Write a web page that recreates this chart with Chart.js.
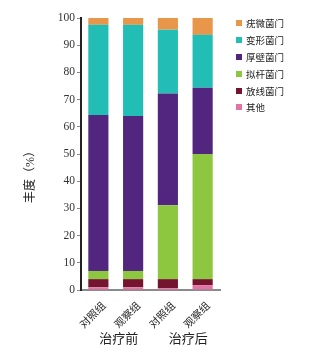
<!DOCTYPE html>
<html><head><meta charset="utf-8">
<script src="https://cdn.jsdelivr.net/npm/chart.js@4"></script>
<style>
html,body{margin:0;padding:0;background:#fff;}
#wrap{position:relative;width:327px;height:359px;}
#legend{position:absolute;left:236px;top:15px;font-family:"Liberation Serif","Noto Sans CJK SC",serif;font-size:9.5px;color:#222;}
.li{height:16.8px;display:flex;align-items:center;}
.sw{width:6px;height:6px;margin-right:4px;}
</style></head>
<body><div id="wrap"><canvas id="c" width="327" height="359"></canvas><div id="legend"></div></div>
<script>
const categories = ["对照组","观察组","对照组","观察组"];
const groups = ["治疗前","治疗后"];
const seriesNames = ["其他","放线菌门","拟杆菌门","厚壁菌门","变形菌门","疣微菌门"];
const qita   = [1.0, 1.0, 0.7, 1.8];
const fangxian = [3.0, 3.0, 3.3, 2.2];
const nigan  = [3.0, 3.0, 27.2, 46.0];
const houbi  = [57.3, 57.0, 41.0, 24.4];
const bianxing = [33.2, 33.5, 23.5, 19.4];
const youwei = [2.5, 2.5, 4.3, 6.2];
const yTicks = [0,10,20,30,40,50,60,70,80,90,100];
const colors = ["#E075A5","#74142F","#8DC63F","#52267F","#22BDB5","#E8964A"];
const series = [qita, fangxian, nigan, houbi, bianxing, youwei];

const serif = '"Liberation Serif","Noto Sans CJK SC",serif';

const leg = document.getElementById('legend');
for (let i = seriesNames.length-1; i >= 0; i--) {
  const d = document.createElement('div'); d.className='li';
  d.innerHTML = '<span class="sw" style="background:'+colors[i]+'"></span><span>'+seriesNames[i]+'</span>';
  leg.appendChild(d);
}

const extra = {
  id:'extra',
  afterDraw(chart){
    const ctx = chart.ctx, xs = chart.scales.x, a = chart.chartArea;
    ctx.save();
    ctx.fillStyle = '#222';
    ctx.font = '13px ' + serif;
    ctx.textAlign='center'; ctx.textBaseline='middle';
    for (let g=0; g<groups.length; g++){
      const x = (xs.getPixelForValue(2*g)+xs.getPixelForValue(2*g+1))/2 + 3;
      ctx.fillText(groups[g], x, 340);
    }
    ctx.font = '12px ' + serif;
    ctx.translate(31, (a.top+a.bottom)/2 + 20);
    ctx.rotate(-Math.PI/2);
    ctx.fillText('丰度（%）', 0, 0);
    ctx.restore();
  }
};

new Chart(document.getElementById('c'), {
  type:'bar',
  data:{
    labels: categories,
    datasets: series.map((s,i)=>({label:seriesNames[i], data:s, backgroundColor:colors[i], borderWidth:0, categoryPercentage:1, barPercentage:0.58}))
  },
  options:{
    responsive:false, animation:false, devicePixelRatio:1,
    layout:{padding:{top:18,right:107,bottom:19,left:0}},
    plugins:{legend:{display:false}, tooltip:{enabled:false}},
    scales:{
      x:{stacked:true,
         grid:{display:false},
         border:{display:true,color:'#8a8a8a',width:2},
         ticks:{font:{family:serif,size:10.5},color:'#222',maxRotation:45,minRotation:45,padding:2,labelOffset:6},
         afterFit(s){s.height=50;}
      },
      y:{stacked:true,min:0,max:100,
         afterBuildTicks(s){s.ticks = yTicks.map(v=>({value:v}));},
         grid:{drawOnChartArea:false,drawTicks:true,tickLength:4,color:'#888',lineWidth:1},
         border:{display:true,color:'#222',width:2},
         ticks:{font:{family:serif,size:11.5},color:'#333',padding:2},
         afterFit(s){s.width=81;}
      }
    }
  },
  plugins:[extra]
});
</script></body></html>
